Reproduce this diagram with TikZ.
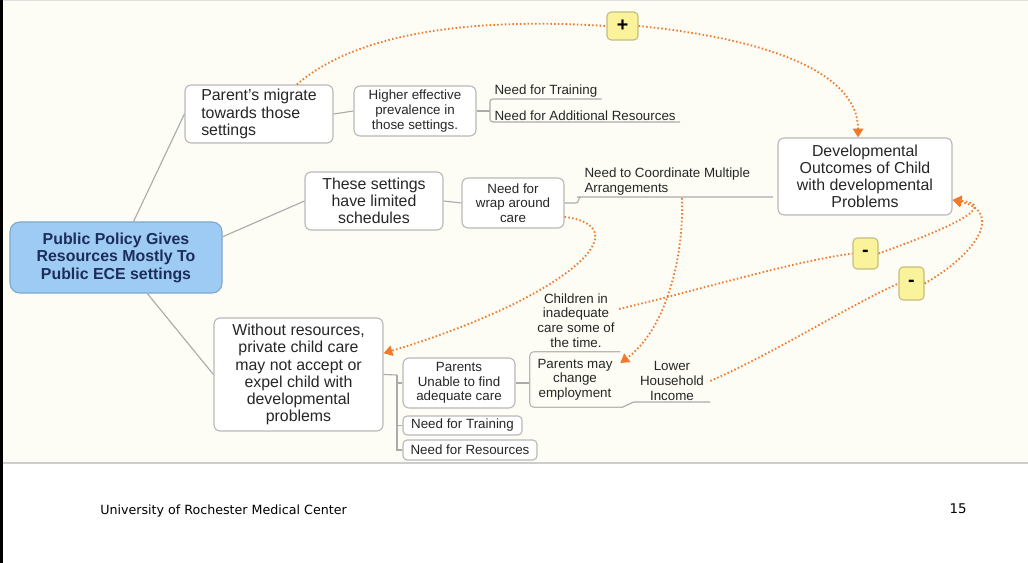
\documentclass[tikz,border=0pt]{standalone}
\usepackage{fontspec}
\setmainfont{Liberation Sans}
\newfontfamily\footerfont{DejaVu Sans}
\usepackage{tikz}
\usetikzlibrary{arrows.meta}

\definecolor{cream}{HTML}{FDFDF6}
\definecolor{policyblue}{HTML}{9ECBF3}
\definecolor{policyedge}{HTML}{7EA9D0}
\definecolor{navy}{HTML}{1C2D5A}
\definecolor{signyellow}{HTML}{FAF39B}
\definecolor{signedge}{HTML}{C4BE7C}
\definecolor{linkorange}{HTML}{F07A2C}
\definecolor{branchgray}{HTML}{ABABAB}
\definecolor{boxgray}{HTML}{B8B8B8}

\begin{document}
\begin{tikzpicture}[x=0.025cm,y=-0.025cm,
        topic/.style={draw=boxgray, fill=white, rounded corners=4.5pt, line width=0.8pt, align=center, inner sep=2pt, text=black!85, font=\fontsize{11.3}{12.2}\selectfont},
        subtopic/.style={topic, font=\fontsize{9.5}{10.4}\selectfont},
        leaf/.style={inner sep=1pt, inner xsep=3pt, align=center, text=black!85, font=\fontsize{9.5}{10.4}\selectfont},
        policy/.style={topic, draw=policyedge, fill=policyblue, rounded corners=7pt, text=navy, font=\fontsize{11.3}{12.4}\selectfont\bfseries},
        sign/.style={draw=signedge, fill=signyellow, rounded corners=3pt, line width=0.8pt, inner sep=0pt, font=\fontsize{14}{14}\selectfont\bfseries},
        branch/.style={draw=branchgray, line width=0.8pt},
        frame/.style={draw=boxgray, line width=0.8pt, rounded corners=3pt},
        link/.style={draw=linkorange, line width=1.3pt, dash pattern=on 1.1pt off 1.6pt, >={Triangle[length=2.2mm,width=2.6mm]}},
    ]
    \useasboundingbox (0,0) rectangle (1028,563);
    % slide
    \fill[cream] (3,0) rectangle (1028,463);
    \draw[gray!25, line width=0.6pt] (3,0.5) -- (1028,0.5);
    \draw[boxgray!70, line width=0.8pt] (3,463) -- (1028,463);
    \fill[black] (0,0) rectangle (2.5,563);

    % root
    \node[policy, minimum width=5.3cm, minimum height=1.775cm] (policy) at (116,257.5) {Public Policy Gives\\Resources Mostly To\\Public ECE settings};

    % upper branch
    \node[topic, align=left, minimum width=3.7cm, minimum height=1.45cm] (migrate) at (259,114) {Parent's migrate\\towards those\\settings};
    \node[subtopic, minimum width=3.05cm, minimum height=1.25cm] (prevalence) at (415,111) {Higher effective\\prevalence in\\those settings.};
    \coordinate (fork1) at (490,111);
    \node[leaf, anchor=south west] (training1) at (490,99) {Need for Training};
    \node[leaf, anchor=south west] (addres) at (490,122) {Need for Additional Resources};

    % middle branch
    \node[topic, minimum width=3.45cm, minimum height=1.45cm] (limited) at (374,201) {These settings\\have limited\\schedules};
    \node[subtopic, minimum width=2.55cm, minimum height=1.25cm] (wrap) at (513,203) {Need for\\wrap around\\care};
    \node[leaf, anchor=south west, align=left] (coord) at (580,197) {Need to Coordinate Multiple\\Arrangements};
    \coordinate (coordend) at (773,197);
    \coordinate (coordlink) at (682,198);

    % lower branch
    \node[topic, minimum width=4.225cm, minimum height=2.825cm] (private) at (298.5,374.5) {Without resources,\\private child care\\may not accept or\\expel child with\\developmental\\problems};
    \coordinate (fork3) at (397,375);
    \node[subtopic, minimum width=2.8cm, minimum height=1.25cm] (unable) at (459,383) {Parents\\Unable to find\\adequate care};
    \node[subtopic, rounded corners=3pt, minimum width=2.975cm, minimum height=0.475cm] (training2) at (462.5,425.5) {Need for Training};
    \node[subtopic, rounded corners=3pt, minimum width=3.35cm, minimum height=0.5cm] (resources) at (470,450) {Need for Resources};
    \node[leaf, minimum width=2.25cm, minimum height=1.375cm] (employ) at (575,379.5) {Parents may\\change\\employment};
    \node[leaf] (children) at (576,320.5) {Children in\\inadequate\\care some of\\the time.};
    \node[leaf, anchor=south, minimum width=1.9cm] (income) at (672,402) {Lower\\Household\\Income};

    % outcome and signs
    \node[topic, minimum width=4.35cm, minimum height=1.925cm] (outcomes) at (865,176.5) {Developmental\\Outcomes of Child\\with developmental\\Problems};
    \node[sign, minimum width=0.775cm, minimum height=0.7cm] (plus) at (622.5,26) {+};
    \node[sign, minimum width=0.625cm, minimum height=0.775cm] (minusA) at (865.5,253.5) {-};
    \node[sign, minimum width=0.625cm, minimum height=0.825cm] (minusB) at (911.5,283.5) {-};

    % tree lines
    \draw[branch] (policy.64) -- (migrate.west);
    \draw[branch] (policy.11) -- (limited.west);
    \draw[branch] (policy.-49) -- (private.west);
    \draw[branch] (migrate.east) -- (prevalence.west);
    \draw[branch] (prevalence.east) -- (fork1);
    \draw[branch, rounded corners=2pt] (training1.south east) -- (training1.south west) -- (addres.south west) -- (addres.south east);
    \draw[branch] (limited.east) -- (wrap.west);
    \draw[branch, rounded corners=2pt] (wrap.east) -- ++(14,0) |- (coord.south west) -- (coordend);
    \draw[branch] (private.east) -- (fork3);
    \draw[branch] (unable.west) -| (fork3);
    \draw[branch] (training2.west) -| (fork3);
    \draw[branch] (resources.west) -| (fork3);
    \draw[branch] (unable.east) -- (unable.east -| employ.west);
    \draw[frame] (employ.north east) -- (employ.north west) -- (employ.south west) -- (employ.south east);
    \draw[branch] (employ.south east) -- ++(2,0) -- (income.south west) -- (income.south east);

    % dotted links
    \draw[link] (migrate.38) .. controls (360,30) and (480,18) .. (plus.west);
    \draw[link,->] (plus.east) .. controls (760,38) and (858,70) .. (outcomes.100);
    \draw[link,->] (wrap.-15) .. controls (645,228) and (560,300) .. (private.14);
    \draw[link,->] (coordlink) .. controls (684,260) and (665,330) .. (employ.20);
    \draw[link] (children.15) .. controls (700,290) and (790,262) .. (minusA.west);
    \draw[link,->] (minusA.east) .. controls (950,228) and (1000,205) .. (outcomes.-15);
    \draw[link] (income.east) .. controls (780,350) and (850,305) .. (minusB.west);
    \draw[link,->] (minusB.east) .. controls (975,255) and (1005,212) .. (outcomes.-15);

    % footer
    \node[anchor=west, inner sep=0pt, font=\footerfont\fontsize{9}{10}\selectfont] (center) at (100,511) {University of Rochester Medical Center};
    \node[inner sep=0pt, font=\footerfont\fontsize{9.5}{10}\selectfont] (page) at (958,509) {15};
\end{tikzpicture}
\end{document}
